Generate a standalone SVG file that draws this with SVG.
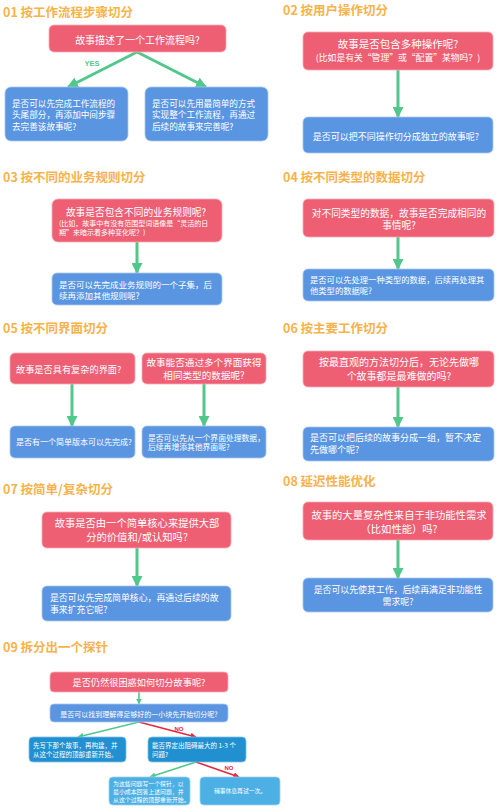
<svg xmlns="http://www.w3.org/2000/svg" width="500" height="810" viewBox="0 0 500 810">
<defs>
<marker id="ag" viewBox="0 0 10 10" refX="9" refY="5" markerWidth="11" markerHeight="11" markerUnits="userSpaceOnUse" orient="auto"><path d="M0,0 L10,5 L0,10 z" fill="#52C78A"/></marker>
<marker id="ags" viewBox="0 0 10 10" refX="9" refY="5" markerWidth="6" markerHeight="6" markerUnits="userSpaceOnUse" orient="auto"><path d="M0,0 L10,5 L0,10 z" fill="#52C78A"/></marker>
<marker id="ars" viewBox="0 0 10 10" refX="9" refY="5" markerWidth="6" markerHeight="6" markerUnits="userSpaceOnUse" orient="auto"><path d="M0,0 L10,5 L0,10 z" fill="#E5283C"/></marker>
</defs>
<style>
text{font-family:"Noto Sans CJK SC","Noto Sans",sans-serif;fill:#fff}
.t{font-size:12.5px;font-weight:bold;fill:#F8B24B}
.r{fill:#EE5F74;stroke:#F7A9B3;stroke-width:0.8}
.b{fill:#5A95E2;stroke:#A9C7F0;stroke-width:0.8}
.d{fill:#2190D0;stroke:#7FC0E8;stroke-width:0.8}
.l{fill:#4DB0E4;stroke:#9AD3F0;stroke-width:0.8}
.c{text-anchor:middle}
.g{stroke:#52C78A;stroke-width:3;fill:none;marker-end:url(#ag)}
.gs{stroke:#52C78A;stroke-width:1.6;fill:none;marker-end:url(#ags)}
.rs{stroke:#E5283C;stroke-width:1.6;fill:none;marker-end:url(#ars)}
</style>

<g id="titles">
<text class="t" x="3" y="17">01 按工作流程步骤切分</text>
<text class="t" x="283" y="15">02 按用户操作切分</text>
<text class="t" x="3" y="182">03 按不同的业务规则切分</text>
<text class="t" x="283" y="182">04 按不同类型的数据切分</text>
<text class="t" x="3" y="333">05 按不同界面切分</text>
<text class="t" x="283" y="333">06 按主要工作切分</text>
<text class="t" x="3" y="494">07 按简单/复杂切分</text>
<text class="t" x="283" y="486">08 延迟性能优化</text>
<text class="t" x="3" y="652">09 拆分出一个探针</text>
</g>

<g id="connectors">
<path class="g" d="M137,52 L68,87"/>
<path class="g" d="M137,52 L206,87"/>
<path class="g" d="M398,70 L398,117"/>
<path class="g" d="M137,242 L137,273"/>
<path class="g" d="M398,237 L398,269"/>
<path class="g" d="M72,384 L72,426"/>
<path class="g" d="M204,384 L204,426"/>
<path class="g" d="M398,387 L398,427"/>
<path class="g" d="M137,548 L137,586"/>
<path class="g" d="M398,540 L398,578"/>
<path class="gs" d="M139,692 L139,704"/>
<path class="gs" d="M139,722 L78,737"/>
<path class="rs" d="M139,722 L196,737"/>
<path class="gs" d="M196,762 L150,777"/>
<path class="rs" d="M196,762 L239,777"/>
<text x="92" y="66" class="c" style="font-size:7.5px;font-weight:bold;fill:#52C78A;font-family:'Liberation Sans',sans-serif">YES</text>
<text x="179" y="731" class="c" style="font-size:6px;font-weight:bold;fill:#E5283C;font-family:'Liberation Sans',sans-serif">NO</text>
<text x="229" y="770" class="c" style="font-size:6px;font-weight:bold;fill:#E5283C;font-family:'Liberation Sans',sans-serif">NO</text>
</g>

<g id="n01q"><rect class="r" x="49" y="25" width="177" height="27" rx="5"/><text class="c" x="137.5" y="43.5" font-size="10">故事描述了一个工作流程吗?</text></g>
<g id="n01a"><rect class="b" x="5" y="87" width="123" height="54" rx="6"/><text x="12" y="106.5" font-size="8.6">是否可以先完成工作流程的</text><text x="12" y="118" font-size="8.6">头尾部分，再添加中间步骤</text><text x="12" y="129.5" font-size="8.6">去完善该故事呢?</text></g>
<g id="n01b"><rect class="b" x="145" y="87" width="123" height="54" rx="6"/><text x="152" y="106.5" font-size="8.6">是否可以先用最简单的方式</text><text x="152" y="118" font-size="8.6">实现整个工作流程，再通过</text><text x="152" y="129.5" font-size="8.6">后续的故事来完善呢?</text></g>

<g id="n02q"><rect class="r" x="303" y="32" width="190" height="38" rx="5"/><text class="c" x="398" y="48" font-size="10.5">故事是否包含多种操作呢?</text><text class="c" x="398" y="60.5" font-size="8.8">(比如是有关“管理”或“配置”某物吗？)</text></g>
<g id="n02a"><rect class="b" x="303" y="117" width="190" height="36" rx="5"/><text class="c" x="396" y="140" font-size="9">是否可以把不同操作切分成独立的故事呢?</text></g>

<g id="n03q"><rect class="r" x="52" y="199" width="170" height="43" rx="6"/><text class="c" x="136" y="216" font-size="9.7">故事是否包含不同的业务规则呢?</text><text x="59" y="226" font-size="7">(比如，故事中有没有范围型词语像是“灵活的日</text><text x="59" y="234.5" font-size="7">期”来暗示着多种变化呢？)</text></g>
<g id="n03a"><rect class="b" x="52" y="273" width="170" height="32" rx="5"/><text x="59" y="288" font-size="8.5">是否可以先完成业务规则的一个子集，后</text><text x="59" y="299" font-size="8.5">续再添加其他规则呢?</text></g>

<g id="n04q"><rect class="r" x="303" y="199" width="191" height="38" rx="5"/><text class="c" x="399" y="216.5" font-size="9.7">对不同类型的数据，故事是否完成相同的</text><text class="c" x="399" y="229" font-size="9.7">事情呢?</text></g>
<g id="n04a"><rect class="b" x="303" y="269" width="191" height="32" rx="5"/><text x="310" y="283" font-size="8.3">是否可以先处理一种类型的数据，后续再处理其</text><text x="310" y="293.5" font-size="8.3">他类型的数据呢?</text></g>

<g id="n05q1"><rect class="r" x="10" y="353" width="125" height="31" rx="5"/><text x="16" y="373" font-size="9.2">故事是否具有复杂的界面?</text></g>
<g id="n05q2"><rect class="r" x="142" y="353" width="124" height="31" rx="5"/><text class="c" x="204" y="366" font-size="9.6">故事能否通过多个界面获得</text><text class="c" x="204" y="378.5" font-size="9.6">相同类型的数据呢?</text></g>
<g id="n05a1"><rect class="b" x="10" y="426" width="125" height="32" rx="5"/><text x="16" y="445" font-size="8">是否有一个简单版本可以先完成?</text></g>
<g id="n05a2"><rect class="b" x="142" y="426" width="124" height="32" rx="5"/><text x="148" y="440.5" font-size="7.8">是否可以先从一个界面处理数据，</text><text x="148" y="450" font-size="7.8">后续再增添其他界面呢?</text></g>

<g id="n06q"><rect class="r" x="303" y="351" width="191" height="36" rx="5"/><text class="c" x="399" y="366" font-size="10">按最直观的方法切分后，无论先做哪</text><text class="c" x="399" y="380" font-size="10">个故事都是最难做的吗?</text></g>
<g id="n06a"><rect class="b" x="303" y="427" width="191" height="34" rx="5"/><text x="310" y="441" font-size="9">是否可以把后续的故事分成一组，暂不决定</text><text x="310" y="453" font-size="9">先做哪个呢?</text></g>

<g id="n07q"><rect class="r" x="42" y="512" width="189" height="36" rx="5"/><text class="c" x="137" y="527" font-size="10.3">故事是否由一个简单核心来提供大部</text><text class="c" x="137" y="540.5" font-size="10.3">分的价值和/或认知吗?</text></g>
<g id="n07a"><rect class="b" x="42" y="586" width="189" height="35" rx="5"/><text x="50" y="601" font-size="8.9">是否可以先完成简单核心，再通过后续的故</text><text x="50" y="612.5" font-size="8.9">事来扩充它呢?</text></g>

<g id="n08q"><rect class="r" x="303" y="502" width="190" height="38" rx="5"/><text class="c" x="399" y="519" font-size="10.3">故事的大量复杂性来自于非功能性需求</text><text class="c" x="399" y="532.5" font-size="10.3">（比如性能）吗?</text></g>
<g id="n08a"><rect class="b" x="303" y="578" width="190" height="34" rx="5"/><text class="c" x="398" y="593" font-size="8.9">是否可以先使其工作，后续再满足非功能性</text><text class="c" x="398" y="604.5" font-size="8.9">需求呢?</text></g>

<g id="n09q"><rect class="r" x="50" y="672" width="178" height="20" rx="4"/><text class="c" x="139" y="685.5" font-size="9.2">是否仍然很困惑如何切分故事呢?</text></g>
<g id="n09a"><rect class="b" x="50" y="704" width="178" height="18" rx="4"/><text class="c" x="139" y="716.5" font-size="7">是否可以找到理解得足够好的一小块先开始切分呢?</text></g>
<g id="n09b"><rect class="d" x="29" y="737" width="97" height="25" rx="4"/><text x="33" y="748" font-size="6.5">先写下那个故事，再构建，并</text><text x="33" y="756.7" font-size="6.5">从这个过程的顶部重新开始。</text></g>
<g id="n09c"><rect class="d" x="148" y="737" width="98" height="25" rx="4"/><text x="152" y="748" font-size="6.5">能否界定出阻碍最大的 1-3 个</text><text x="152" y="756.5" font-size="6.5">问题?</text></g>
<g id="n09d"><rect class="l" x="109" y="777" width="81" height="28" rx="4"/><text x="113" y="785.5" font-size="5.9">为这些问题写一个探针，以</text><text x="113" y="793.7" font-size="5.9">最小成本回答上述问题，并</text><text x="113" y="801.8" font-size="5.9">从这个过程的顶部重新开始。</text></g>
<g id="n09e"><rect class="l" x="200" y="777" width="80" height="28" rx="4"/><text class="c" x="240" y="793" font-size="5.8">稍事休息再试一次。</text></g>
</svg>
